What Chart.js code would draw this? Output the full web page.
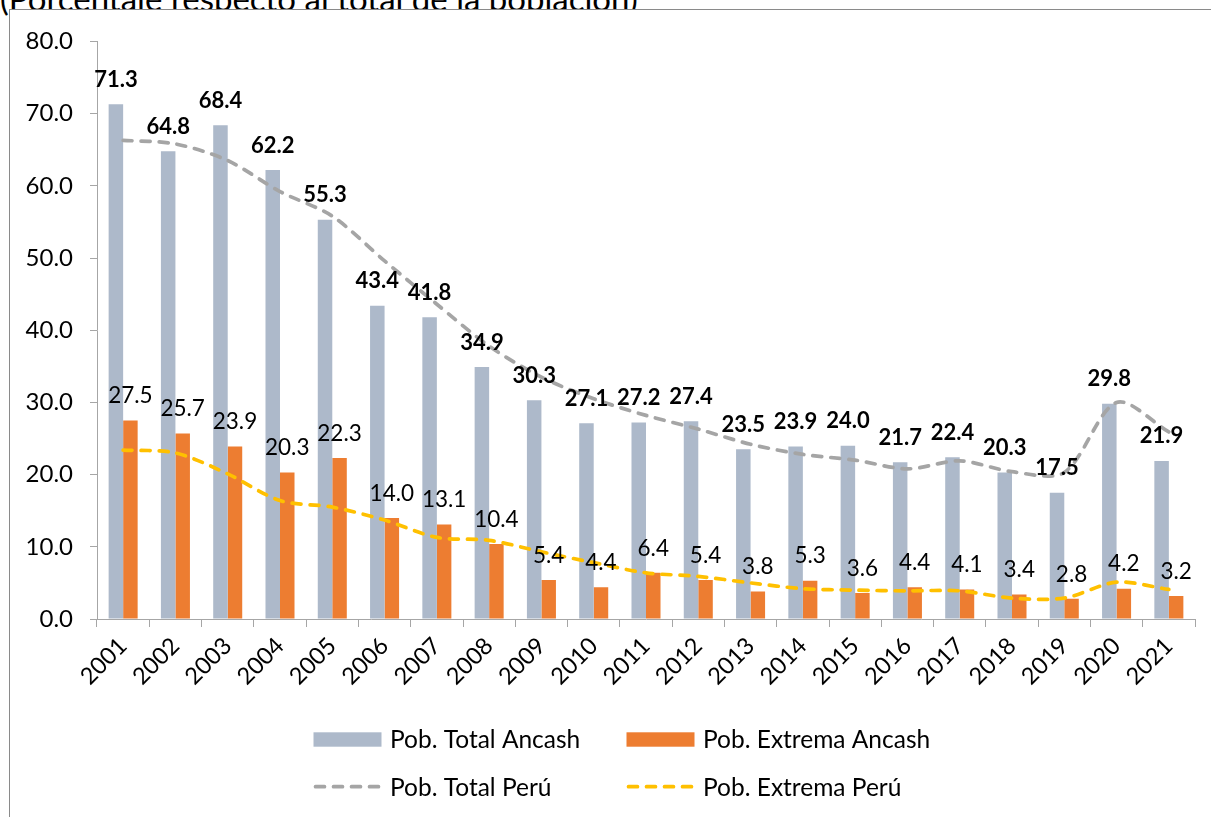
<!DOCTYPE html>
<html>
<head>
<meta charset="utf-8">
<script src="https://cdn.jsdelivr.net/npm/chart.js@4.4.1/dist/chart.umd.min.js"></script>
<style>
  html, body { margin: 0; padding: 0; background: #fff; overflow: hidden; width: 1211px; height: 817px; }
  #titulo { position: absolute; left: 0; top: -22px; font: 33px Lato, sans-serif; color: #000; white-space: nowrap; }
  #marco { position: absolute; left: 9px; top: 9px; width: 1226px; height: 812px; border: 1px solid #8a8a8a; background: #fff; }
  #marco canvas { display: block; }
</style>
</head>
<body>
<div id="titulo">(Porcentaje respecto al total de la población)</div>
<div id="marco"><canvas id="grafico" width="1226" height="812"></canvas></div>
<script>
// datos
const anios = ['2001','2002','2003','2004','2005','2006','2007','2008','2009','2010','2011',
               '2012','2013','2014','2015','2016','2017','2018','2019','2020','2021'];
const total_ancash = [71.3, 64.8, 68.4, 62.2, 55.3, 43.4, 41.8, 34.9, 30.3, 27.1, 27.2,
                      27.4, 23.5, 23.9, 24.0, 21.7, 22.4, 20.3, 17.5, 29.8, 21.9];
const extrema_ancash = [27.5, 25.7, 23.9, 20.3, 22.3, 14.0, 13.1, 10.4, 5.4, 4.4, 6.4,
                        5.4, 3.8, 5.3, 3.6, 4.4, 4.1, 3.4, 2.8, 4.2, 3.2];
const total_peru = [66.3, 65.8, 63.5, 59.2, 55.8, 49.6, 43.6, 37.8, 33.5, 30.5, 28.2,
                    26.3, 24.2, 22.8, 22.0, 20.8, 21.9, 20.4, 20.3, 30.0, 25.9];
const extrema_peru = [23.4, 23.0, 20.1, 16.4, 15.5, 13.7, 11.3, 10.9, 9.3, 7.8, 6.4,
                      5.9, 5.0, 4.2, 4.0, 3.9, 3.9, 2.9, 2.9, 5.1, 4.1];
const ticks_y = [0, 10, 20, 30, 40, 50, 60, 70, 80];

const FUENTE = 'Lato, sans-serif';
const GRIS_EJE = '#a6a6a6';

// etiquetas sobre las barras
const etiquetas = {
    id: 'etiquetas',
    afterDatasetsDraw(chart) {
        const ctx = chart.ctx;
        ctx.save();
        ctx.textAlign = 'center';
        ctx.textBaseline = 'middle';
        ctx.fillStyle = '#000';
        [0, 1].forEach(function(d) {
            const meta = chart.getDatasetMeta(d);
            ctx.font = (d === 0 ? 'bold 22px ' : '22.5px ') + FUENTE;
            meta.data.forEach(function(bar, i) {
                const v = chart.data.datasets[d].data[i];
                ctx.fillText(v.toFixed(1), bar.x, bar.y - 24.5);
            });
        });
        ctx.restore();
    }
};

// leyenda en dos columnas como en excel
const leyenda = {
    id: 'leyenda',
    afterDraw(chart) {
        const ctx = chart.ctx;
        const cols = [303.5, 616.5];
        const filas = [729.5, 776.7];
        ctx.save();
        ctx.font = '24.5px ' + FUENTE;
        ctx.textBaseline = 'middle';
        ctx.textAlign = 'left';
        chart.data.datasets.forEach(function(ds, i) {
            const x = cols[i % 2];
            const y = filas[Math.floor(i / 2)];
            if (ds.type === 'line') {
                ctx.strokeStyle = ds.borderColor;
                ctx.lineWidth = ds.borderWidth;
                ctx.lineCap = 'round';
                ctx.setLineDash(ds.borderDash);
                ctx.beginPath();
                ctx.moveTo(x + 2, y);
                ctx.lineTo(x + 66, y);
                ctx.stroke();
                ctx.setLineDash([]);
            } else {
                ctx.fillStyle = ds.backgroundColor;
                ctx.fillRect(x, y - 7.2, 68, 14.4);
            }
            ctx.fillStyle = '#000';
            ctx.fillText(ds.label, x + 76.5, y + 1);
        });
        ctx.restore();
    }
};

const ctx = document.getElementById('grafico').getContext('2d');
const grafico = new Chart(ctx, {
    type: 'bar',
    data: {
        labels: anios,
        datasets: [{
            label: 'Pob. Total Ancash',
            data: total_ancash,
            backgroundColor: '#adb9ca',
            categoryPercentage: 0.555,
            barPercentage: 1.0,
            order: 2
        }, {
            label: 'Pob. Extrema Ancash',
            data: extrema_ancash,
            backgroundColor: '#ed7d31',
            categoryPercentage: 0.555,
            barPercentage: 1.0,
            order: 2
        }, {
            type: 'line',
            label: 'Pob. Total Perú',
            data: total_peru,
            borderColor: '#a5a5a5',
            borderWidth: 3.7,
            borderDash: [9, 9],
            borderCapStyle: 'round',
            pointRadius: 0,
            tension: 0.3,
            fill: false,
            order: 1
        }, {
            type: 'line',
            label: 'Pob. Extrema Perú',
            data: extrema_peru,
            borderColor: '#ffc000',
            borderWidth: 3.7,
            borderDash: [9, 9],
            borderCapStyle: 'round',
            pointRadius: 0,
            tension: 0.3,
            fill: false,
            order: 1
        }]
    },
    options: {
        responsive: false,
        animation: false,
        layout: { padding: { left: 0, top: 30, right: 41, bottom: 123 } },
        plugins: {
            legend: { display: false },
            tooltip: { enabled: false }
        },
        scales: {
            x: {
                grid: { drawOnChartArea: false, drawTicks: true, tickLength: 8, color: GRIS_EJE },
                border: { color: GRIS_EJE },
                ticks: {
                    color: '#000',
                    font: { family: FUENTE, size: 23.5 },
                    minRotation: 45,
                    maxRotation: 45,
                    padding: 5
                },
                afterFit: function(s) { s.height = 80; }
            },
            y: {
                min: 0,
                max: 80,
                afterBuildTicks: function(s) { s.ticks = ticks_y.map(v => ({ value: v })); },
                grid: { drawOnChartArea: false, drawTicks: true, tickLength: 7, color: GRIS_EJE },
                border: { color: GRIS_EJE },
                ticks: {
                    color: '#000',
                    font: { family: FUENTE, size: 24 },
                    padding: 17,
                    callback: function(v) { return Number(v).toFixed(1); }
                },
                afterFit: function(s) { s.width = 87; }
            }
        }
    },
    plugins: [etiquetas, leyenda]
});
</script>
</body>
</html>
